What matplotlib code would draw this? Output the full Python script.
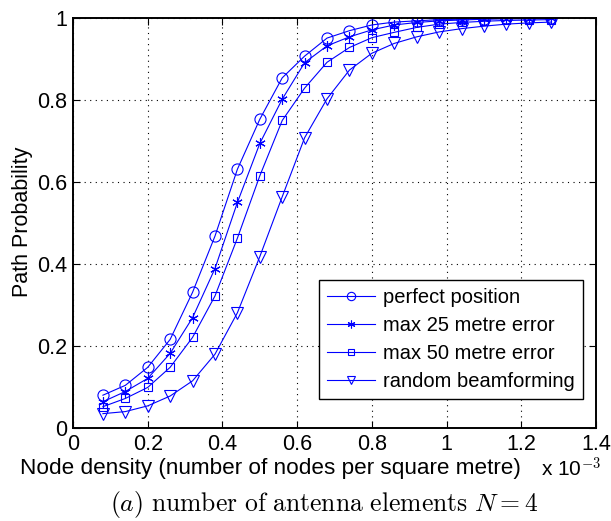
import matplotlib
matplotlib.use('Agg')
import matplotlib.pyplot as plt
import numpy as np

plt.rcParams['font.family'] = ['Liberation Sans', 'DejaVu Sans']
plt.rcParams['mathtext.fontset'] = 'cm'

# node density (x 1e-3)
density = [0.08, 0.14, 0.20, 0.26, 0.32, 0.38, 0.44, 0.50, 0.56, 0.62, 0.68,
           0.74, 0.80, 0.86, 0.92, 0.98, 1.04, 1.10, 1.16, 1.22, 1.28]

perfect = [0.080, 0.104, 0.148, 0.216, 0.331, 0.468, 0.631, 0.753, 0.854, 0.907, 0.951,
           0.969, 0.983, 0.990, 0.993, 0.996, 0.997, 0.998, 0.999, 0.999, 0.999]
err25 = [0.064, 0.089, 0.121, 0.182, 0.269, 0.389, 0.550, 0.694, 0.802, 0.891, 0.932,
         0.954, 0.971, 0.983, 0.989, 0.993, 0.995, 0.997, 0.998, 0.998, 0.999]
err50 = [0.052, 0.072, 0.099, 0.148, 0.221, 0.322, 0.463, 0.615, 0.750, 0.829, 0.892,
         0.928, 0.952, 0.965, 0.977, 0.985, 0.989, 0.992, 0.994, 0.995, 0.996]
random_bf = [0.035, 0.040, 0.054, 0.078, 0.115, 0.180, 0.281, 0.418, 0.564, 0.708, 0.803,
             0.873, 0.914, 0.938, 0.954, 0.966, 0.974, 0.980, 0.985, 0.988, 0.990]

labels = ['perfect position', 'max 25 metre error', 'max 50 metre error', 'random beamforming']
markers = ['o', (6, 2, 0), 's', 'v']
msizes = [8, 7.5, 6.2, 8]
series = [perfect, err25, err50, random_bf]

fig = plt.figure(figsize=(6.11, 5.21), dpi=100)
ax = fig.add_axes([0.1195, 0.1785, 0.856, 0.787])

for y, m, ms, lab in zip(series, markers, msizes, labels):
    ax.plot(density, y, color='blue', lw=0.8, marker=m, ms=ms,
            mfc='none', mec='blue', mew=0.8, label=lab)

ax.set_xlim(0, 1.4)
ax.set_ylim(0, 1)
ax.set_xticks(np.arange(0, 1.41, 0.2))
ax.set_xticklabels(['0', '0.2', '0.4', '0.6', '0.8', '1', '1.2', '1.4'])
ax.set_yticks(np.arange(0, 1.01, 0.2))
ax.set_yticklabels(['0', '0.2', '0.4', '0.6', '0.8', '1'])
ax.tick_params(direction='in', top=True, right=True, labelsize=15.5, length=5, pad=4)
ax.grid(True, color='black', linestyle=(0, (1, 4)), linewidth=0.8)
for s in ax.spines.values():
    s.set_linewidth(1.4)

ax.set_xlabel('Node density (number of nodes per square metre)', fontsize=16.2, va='top')
ax.set_ylabel('Path Probability', fontsize=15.5)
ax.xaxis.set_label_coords(0.377, -0.073)
ax.yaxis.set_label_coords(-0.077, 0.502)

fig.text(0.885, 0.084, r'x 10$^{-3}$', fontsize=15)
fig.text(0.53, 0.02, r'$(a)\ \mathrm{number\ of\ antenna\ elements}\ N=4$',
         fontsize=18.5, ha='center')

leg = ax.legend(loc='lower right', bbox_to_anchor=(0.975, 0.071), borderaxespad=0,
                fontsize=14.5, fancybox=False, edgecolor='black', framealpha=1,
                handlelength=2.4, labelspacing=0.45, markerscale=0.75,
                borderpad=0.4, handletextpad=0.4)
leg.get_frame().set_linewidth(1.0)

fig.savefig('out.png', dpi=100)
